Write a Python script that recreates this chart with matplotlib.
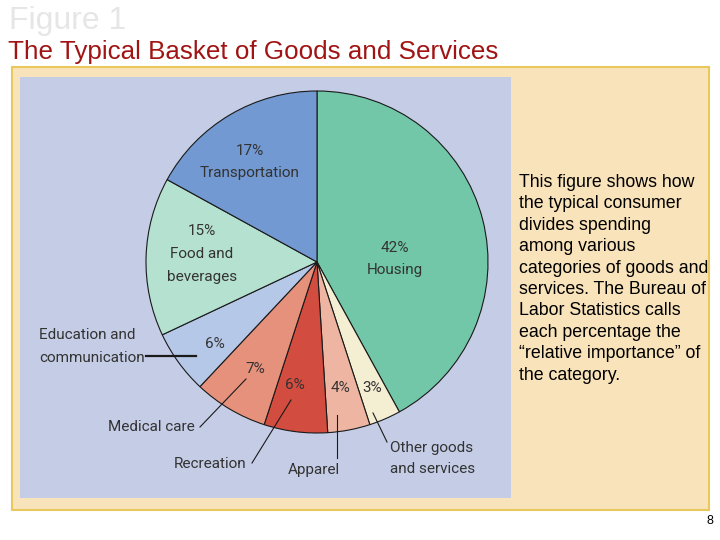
import matplotlib.pyplot as plt
from matplotlib.patches import Rectangle

# pie data (clockwise from 12 o'clock)
categories = ["Housing", "Other goods and services", "Apparel", "Recreation",
              "Medical care", "Education and communication",
              "Food and beverages", "Transportation"]
shares = [42, 3, 4, 6, 7, 6, 15, 17]
colors = ["#72c7a9", "#f4eed2", "#eeb6a2", "#d24c3f",
          "#e6917c", "#b5c8e7", "#b5e1d0", "#7299d1"]

paragraph = ["This figure shows how", "the typical consumer", "divides spending",
             "among various", "categories of goods and", "services. The Bureau of",
             "Labor Statistics calls", "each percentage the",
             "\u201crelative importance\u201d of", "the category."]

W, H = 720, 540
fig = plt.figure(figsize=(7.2, 5.4), dpi=100)
ax = fig.add_axes([0, 0, 1, 1])

def Y(py):
    return H - py

# panels
ax.add_patch(Rectangle((11.5, Y(510)), 697, 443, facecolor="#f8e3ba",
                       edgecolor="#e9c85c", lw=1.5, zorder=0))
ax.add_patch(Rectangle((20, Y(498)), 491, 421, facecolor="#c5cde6",
                       edgecolor="none", zorder=1))

ax.pie(shares, colors=colors, startangle=90, counterclock=False,
       center=(317, Y(262)), radius=171, frame=True,
       wedgeprops=dict(edgecolor="#1a1a1a", linewidth=0.8, zorder=2))

ax.set_xlim(0, W)
ax.set_ylim(0, H)
ax.axis("off")

lab = dict(fontsize=11, color="#333333", family="Roboto",
           ha="center", va="center", zorder=5)
ax.text(250, Y(151), "17%", **lab)
ax.text(250, Y(173), "Transportation", **lab)
ax.text(202, Y(231), "15%", **lab)
ax.text(202, Y(254), "Food and", **lab)
ax.text(202, Y(277), "beverages", **lab)
ax.text(395, Y(248), "42%", **lab)
ax.text(395, Y(270), "Housing", **lab)
ax.text(215, Y(344), "6%", **lab)
ax.text(255, Y(369), "7%", **lab)
ax.text(295, Y(385), "6%", **lab)
ax.text(340, Y(388), "4%", **lab)
ax.text(372, Y(388), "3%", **lab)

left = dict(lab, ha="left")
ax.text(39, Y(335), "Education and", **left)
ax.text(39, Y(358), "communication", **left)
ax.text(151, Y(427), "Medical care", **lab)
ax.text(210, Y(464), "Recreation", **lab)
ax.text(314, Y(470), "Apparel", **lab)
ax.text(390, Y(448), "Other goods", **left)
ax.text(390, Y(469), "and services", **left)

# leader lines
ax.plot([146, 196], [Y(356), Y(356)], color="#1a1a1a", lw=1.6, zorder=5)
ax.plot([200, 246], [Y(427), Y(379)], color="#1a1a1a", lw=0.8, zorder=5)
ax.plot([252, 291], [Y(463), Y(400)], color="#1a1a1a", lw=0.8, zorder=5)
ax.plot([337, 337], [Y(458), Y(415)], color="#1a1a1a", lw=0.8, zorder=5)
ax.plot([387, 373], [Y(442), Y(413)], color="#1a1a1a", lw=0.8, zorder=5)

# titles and side text
ax.text(9, Y(29), "Figure 1", fontsize=23, color="#e6e6e6",
        family="Liberation Sans", ha="left", va="baseline")
ax.text(8, Y(59), "The Typical Basket of Goods and Services", fontsize=18.7,
        color="#a01414", family="Liberation Sans", ha="left", va="baseline")
for i, line in enumerate(paragraph):
    ax.text(519, Y(187 + 21.4 * i), line, fontsize=12.8, color="black",
            family="Liberation Sans", ha="left", va="baseline")
ax.text(713, Y(524), "8", fontsize=9, color="black",
        family="Liberation Sans", ha="right", va="baseline")

fig.savefig("out.png", dpi=100)
